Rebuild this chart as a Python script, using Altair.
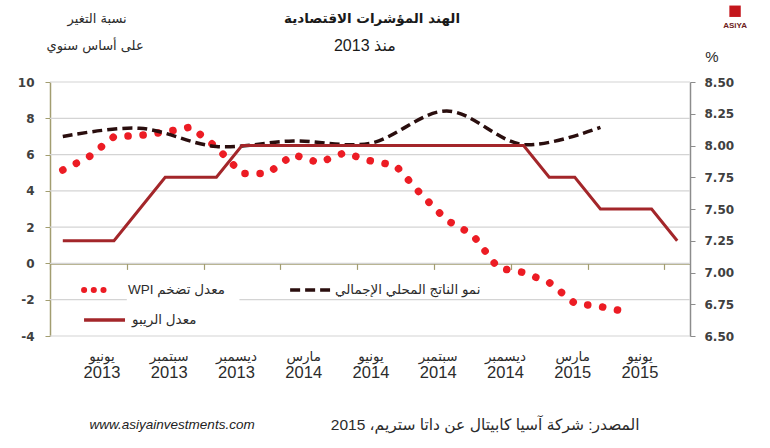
import altair as alt
import pandas as pd

# ---------------- data ----------------
months = ["2013-06", "2013-07", "2013-08", "2013-09", "2013-10", "2013-11", "2013-12",
          "2014-01", "2014-02", "2014-03", "2014-04", "2014-05", "2014-06", "2014-07",
          "2014-08", "2014-09", "2014-10", "2014-11", "2014-12", "2015-01", "2015-02",
          "2015-03", "2015-04", "2015-05", "2015-06"]

# WPI inflation, % y/y (left axis), Jun 2013 - Apr 2015
wpi_values = [5.15, 5.85, 6.99, 7.05, 7.24, 7.52, 6.40, 4.95, 4.95, 6.00, 5.55, 6.10,
              5.66, 5.40, 3.80, 2.38, 1.60, -0.25, -0.50, -1.05, -2.20, -2.38, -2.66]

# GDP growth, % y/y (left axis), quarterly
gdp_months = ["2013-06", "2013-09", "2013-12", "2014-03", "2014-06", "2014-09", "2014-12", "2015-03"]
gdp_values = [7.0, 7.45, 6.45, 6.75, 6.62, 8.4, 6.55, 7.5]

# Repo rate, % (right axis), Jun 2013 - Jun 2015
repo_values = [7.25, 7.25, 7.25, 7.5, 7.75, 7.75, 7.75, 8.0, 8.0, 8.0, 8.0, 8.0, 8.0,
               8.0, 8.0, 8.0, 8.0, 8.0, 8.0, 7.75, 7.75, 7.5, 7.5, 7.5, 7.25]

label_months = ["يونيو", "سبتمبر", "ديسمبر", "مارس", "يونيو", "سبتمبر", "ديسمبر", "مارس", "يونيو"]
label_years = ["2013", "2013", "2013", "2014", "2014", "2014", "2014", "2015", "2015"]

left_ticks = [-4, -2, 0, 2, 4, 6, 8, 10]
right_ticks = [6.5, 6.75, 7.0, 7.25, 7.5, 7.75, 8.0, 8.25, 8.5]

title_text = "الهند المؤشرات الاقتصادية"
subtitle_text = "منذ 2013"
left_title = ["نسبة التغير", "على أساس سنوي"]
legend_wpi = "WPI معدل تضخم"
legend_gdp = "نمو الناتج المحلي الإجمالي"
legend_repo = "معدل الريبو"
source_text = "المصدر: شركة آسيا كابيتال عن داتا ستريم، 2015"
website_text = "www.asiyainvestments.com"

# ---------------- tables ----------------
df_wpi = pd.DataFrame({"i": list(range(len(wpi_values))), "v": wpi_values})
df_gdp = pd.DataFrame({"i": [months.index(m) for m in gdp_months], "v": gdp_values})
df_repo = pd.DataFrame({"i": list(range(len(repo_values))), "v": repo_values})
df_lab = pd.DataFrame({"slot": list(range(len(label_months))), "month": label_months, "year": label_years})
df_grid = pd.DataFrame({"v": left_ticks})

# ---------------- styles ----------------
AR = "DejaVu Sans"
MIX = "Liberation Sans, DejaVu Sans"
OLIVE = "#a29d70"
RED = "#ec1c24"
REPO = "#a3262a"
GDPC = "#2a0e0e"
TXT = "#2b2b2b"

X = alt.Scale(domain=[-0.5, len(months) - 0.5], nice=False, zero=False)
YL = alt.Scale(domain=[-4, 10], nice=False, zero=False)
YR = alt.Scale(domain=[6.5, 8.5], nice=False, zero=False)

x_axis = alt.Axis(values=[-0.5 + 3 * j for j in range(9)], labels=False, title=None,
                  domainColor=OLIVE, domainWidth=1.5, tickColor=OLIVE, tickSize=6,
                  tickWidth=1.2, grid=False, offset=-72.6, orient="bottom")
yl_axis = alt.Axis(values=left_ticks, title=None, domainColor=OLIVE, domainWidth=1.5,
                   tickColor=OLIVE, tickSize=5, labelPadding=11, labelFont=AR,
                   labelFontSize=12, labelFontWeight="bold", labelColor="#404040",
                   labelExpr="datum.value + ''", grid=False, orient="left")
yr_axis = alt.Axis(values=right_ticks, format=".2f", orient="right", title=None,
                   domainColor="#8c8c8c", domainWidth=1.5, tickColor="#8c8c8c", tickSize=5,
                   labelPadding=9, labelFont=AR, labelFontSize=12, labelFontWeight="bold",
                   labelColor="#404040", grid=False)


def seg(xs, ys):
    return pd.DataFrame({"i": xs, "v": ys})


def xenc():
    return alt.X("i:Q", scale=X, axis=x_axis)


def yenc():
    return alt.Y("v:Q", scale=YL, axis=yl_axis)


# ---------------- left group ----------------
grid = alt.Chart(df_grid).mark_rule(color="#d4d4d4", strokeWidth=1.2).encode(
    y=yenc(), x=alt.XDatum(-0.5, scale=X, axis=x_axis), x2=alt.X2Datum(len(months) - 0.5))

wpi = alt.Chart(df_wpi).mark_line(color=RED, strokeWidth=7.5, strokeDash=[0.1, 15],
                                  strokeCap="round").encode(x=xenc(), y=yenc())
gdp = alt.Chart(df_gdp).mark_line(color=GDPC, strokeWidth=3.5, strokeDash=[10, 5],
                                  interpolate="catmull-rom").encode(x=xenc(), y=yenc())

leg_row1, leg_row2 = -1.467, -3.12
leg_box = alt.Chart(pd.DataFrame({"i": [2.5], "i2": [6.9], "v": [-0.9], "v2": [-2.15]})).mark_rect(
    color="white").encode(x=xenc(), x2="i2:Q", y=yenc(), y2="v2:Q")
leg_wpi = alt.Chart(seg([0.83, 1.96], [leg_row1, leg_row1])).mark_line(
    color=RED, strokeWidth=6, strokeDash=[0.1, 9.6], strokeCap="round").encode(x=xenc(), y=yenc())
leg_gdp = alt.Chart(seg([8.88, 10.44], [leg_row1, leg_row1])).mark_line(
    color=GDPC, strokeWidth=3.5, strokeDash=[10, 5]).encode(x=xenc(), y=yenc())
leg_repo = alt.Chart(seg([0.83, 2.43], [leg_row2, leg_row2])).mark_line(
    color=REPO, strokeWidth=3.5).encode(x=xenc(), y=yenc())

df_leg_text = pd.DataFrame({"i": [2.55, 10.63, 2.70], "v": [leg_row1, leg_row1, leg_row2],
                            "t": [legend_wpi, legend_gdp, legend_repo]})
leg_text = alt.Chart(df_leg_text).mark_text(align="left", baseline="middle", font=MIX,
                                            fontSize=13.5, color=TXT).encode(x=xenc(), y=yenc(), text="t:N")

df_title = pd.DataFrame({"i": [12.08], "v": [13.45], "t": [title_text]})
title = alt.Chart(df_title).mark_text(align="center", baseline="middle", font=AR, fontSize=13.5,
                                      fontWeight="bold", color="#1a1a1a").encode(x=xenc(), y=yenc(), text="t:N")
df_sub = pd.DataFrame({"i": [11.8], "v": [12.0], "t": [subtitle_text]})
subtitle = alt.Chart(df_sub).mark_text(align="center", baseline="middle", font=MIX, fontSize=16,
                                       color="#1a1a1a").encode(x=xenc(), y=yenc(), text="t:N")

df_ltitle = pd.DataFrame({"i": [1.34, 1.26], "v": [13.45, 12.0], "t": left_title})
ltitle = alt.Chart(df_ltitle).mark_text(align="center", baseline="middle", font=AR, fontSize=13,
                                        color=TXT).encode(x=xenc(), y=yenc(), text="t:N")

df_pct = pd.DataFrame({"i": [25.36], "v": [11.38], "t": ["%"]})
pct = alt.Chart(df_pct).mark_text(align="center", baseline="middle", font=MIX, fontSize=15,
                                  color=TXT).encode(x=xenc(), y=yenc(), text="t:N")

df_src = pd.DataFrame({"i": [16.5], "v": [-8.9], "t": [source_text]})
src = alt.Chart(df_src).mark_text(align="center", baseline="middle", font=MIX, fontSize=15.5,
                                  color=TXT).encode(x=xenc(), y=yenc(), text="t:N")
df_web = pd.DataFrame({"i": [4.27], "v": [-8.9], "t": [website_text]})
web = alt.Chart(df_web).mark_text(align="center", baseline="middle", font="Liberation Sans",
                                  fontSize=13.5, fontStyle="italic", color="#222222").encode(
    x=xenc(), y=yenc(), text="t:N")

df_logo = pd.DataFrame({"i": [26.26], "v": [13.9]})
logo_box = alt.Chart(df_logo).mark_square(size=130, color="#c4161c", opacity=1).encode(x=xenc(), y=yenc())
df_logo_t = pd.DataFrame({"i": [26.26], "v": [13.1], "t": ["ASiYA"]})
logo_t = alt.Chart(df_logo_t).mark_text(align="center", baseline="middle", font="Liberation Sans",
                                        fontSize=8, fontWeight="bold", color="#6b2020").encode(
    x=xenc(), y=yenc(), text="t:N")

left_group = alt.layer(grid, leg_box, wpi, gdp, leg_wpi, leg_gdp, leg_repo, leg_text, title,
                       subtitle, ltitle, pct, src, web, logo_box, logo_t)

# ---------------- right group ----------------
repo = alt.Chart(df_repo).mark_line(color=REPO, strokeWidth=3).encode(
    x=alt.X("i:Q", scale=X, axis=None), y=alt.Y("v:Q", scale=YR, axis=yr_axis))
right_group = alt.layer(repo)

# ---------------- category labels ----------------
XS = alt.Scale(domain=[-0.773, 8.744], nice=False, zero=False)
lab_month = alt.Chart(df_lab).mark_text(align="center", baseline="middle", font=AR, fontSize=13.5,
                                        color=TXT).encode(
    x=alt.X("slot:Q", scale=XS, axis=None), y=alt.YDatum(-5.16, scale=YL, axis=None), text="month:N")
lab_year = alt.Chart(df_lab).mark_text(align="center", baseline="middle", font="Liberation Sans",
                                       fontSize=16.5, color=TXT).encode(
    x=alt.X("slot:Q", scale=XS, axis=None), y=alt.YDatum(-6.04, scale=YL, axis=None), text="year:N")
label_group = alt.layer(lab_month, lab_year)

chart = alt.layer(left_group, right_group, label_group).resolve_scale(
    x="independent", y="independent"
).properties(
    width=640, height=254, autosize="none",
    padding={"left": 50, "top": 82, "right": 80, "bottom": 112},
    background="white"
).configure_view(stroke=None)

chart.save("out.html", embed_options={"renderer": "svg", "actions": False})
